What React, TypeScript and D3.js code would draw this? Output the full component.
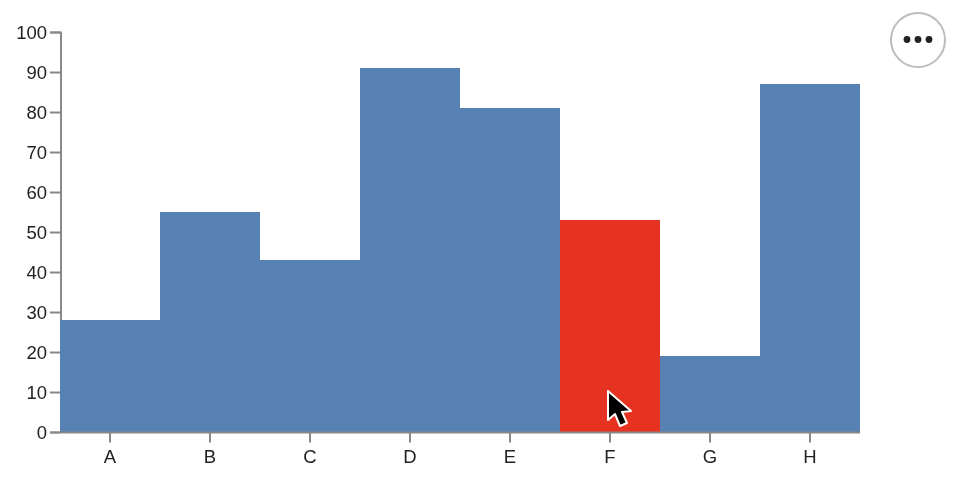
import React from "react";
import * as d3 from "d3";

const categories = ["A", "B", "C", "D", "E", "F", "G", "H"];
const values = [28, 55, 43, 91, 81, 53, 19, 87];
const highlighted = "F";
const yTicks = [0, 10, 20, 30, 40, 50, 60, 70, 80, 90, 100];

const W = 954, H = 478;
const x = d3.scaleBand().domain(categories).range([60, 860]).padding(0);
const y = d3.scaleLinear().domain([0, 100]).range([432.5, 32.5]);
const font = "Helvetica, 'Liberation Sans', Arial, sans-serif";
const axisColor = "#888888";

export default function App() {
  return (
    <svg width={W} height={H} viewBox={`0 0 ${W} ${H}`}
      style={{ position: "fixed", left: 0, top: 0, display: "block", filter: "blur(0.4px)" }}>
      <rect width={W} height={H} fill="#fff" />
      <path d={`M50,${y(100)}H${61}V${y(0)}`} fill="none" stroke={axisColor} strokeWidth={2} />
      {yTicks.map(t => (
        <g key={t}>
          <line x1={50} x2={60} y1={y(t)} y2={y(t)} stroke={axisColor} strokeWidth={2} />
          <text x={47} y={y(t)} dy="0.35em" textAnchor="end" fontSize={18.5} fontFamily={font} fill="#222">{t}</text>
        </g>
      ))}
      {categories.map((c, i) => (
        <rect key={c} x={x(c)} y={y(values[i]) - 0.5} width={x.bandwidth()} height={y(0) - y(values[i]) + 0.5}
          fill={c === highlighted ? "#e63220" : "#5781b2"} />
      ))}
      <line x1={50} x2={860} y1={y(0)} y2={y(0)} stroke={axisColor} strokeWidth={2} />
      {categories.map(c => {
        const cx = x(c)! + x.bandwidth() / 2;
        return (
          <g key={c}>
            <line x1={cx} x2={cx} y1={y(0)} y2={y(0) + 10} stroke={axisColor} strokeWidth={2} />
            <text x={cx} y={463} textAnchor="middle" fontSize={18.5} fontFamily={font} fill="#222">{c}</text>
          </g>
        );
      })}
      <g transform="translate(608,391)">
        <path d="M0,0 V29 L7,23 L12,35 L19,32 L14,21 L23,20 Z" fill="#000" stroke="#fff" strokeWidth={2} strokeLinejoin="round" />
      </g>
      <circle cx={918} cy={40} r={27} fill="#fff" stroke="#bdbdbd" strokeWidth={2} />
      {[907, 918, 929].map(cx => (
        <circle key={cx} cx={cx} cy={39.5} r={3.4} fill="#222" />
      ))}
    </svg>
  );
}
